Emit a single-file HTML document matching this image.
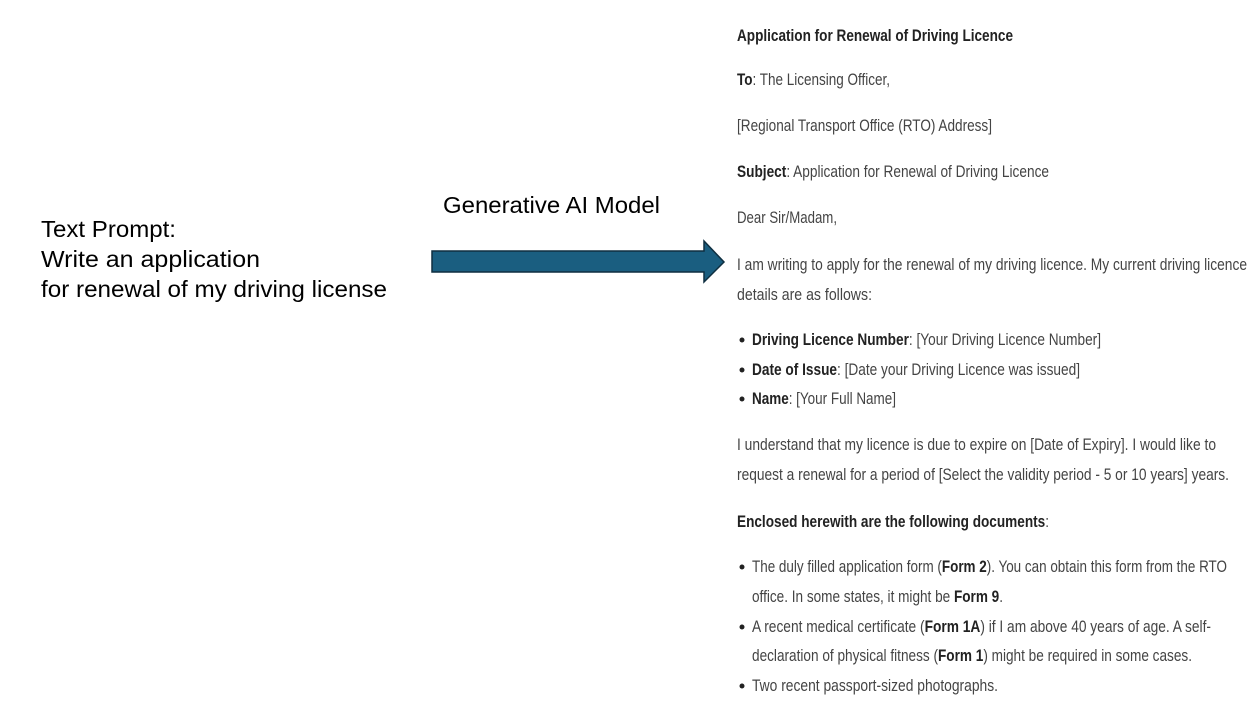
<!DOCTYPE html>
<html><head><meta charset="utf-8"><style>
html,body{margin:0;padding:0;background:#fff;}
svg{display:block;}
.r{font-family:"Liberation Sans",sans-serif;font-size:17px;fill:#444;}
.b{font-weight:bold;fill:#222;}
.l{font-family:"Liberation Sans",sans-serif;font-size:23px;fill:#000;}
</style></head><body>
<svg width="1258" height="720" viewBox="0 0 1258 720" xmlns="http://www.w3.org/2000/svg">
<text class="l" x="41" y="237" textLength="135" lengthAdjust="spacingAndGlyphs">Text Prompt:</text>
<text class="l" x="41" y="267" textLength="219" lengthAdjust="spacingAndGlyphs">Write an application</text>
<text class="l" x="41" y="297" textLength="346" lengthAdjust="spacingAndGlyphs">for renewal of my driving license</text>
<text class="l" x="443" y="213" textLength="217" lengthAdjust="spacingAndGlyphs">Generative AI Model</text>
<polygon points="432,251 704,251 704,241 724,262 704,282 704,272 432,272" fill="#1a5e80" stroke="#0f2f40" stroke-width="1.5"/>

<text class="r b" x="737" y="41" textLength="276" lengthAdjust="spacingAndGlyphs">Application for Renewal of Driving Licence</text>
<text class="r" x="737" y="85" textLength="153" lengthAdjust="spacingAndGlyphs"><tspan class="b">To</tspan>: The Licensing Officer,</text>
<text class="r" x="737" y="131" textLength="255" lengthAdjust="spacingAndGlyphs">[Regional Transport Office (RTO) Address]</text>
<text class="r" x="737" y="177" textLength="312" lengthAdjust="spacingAndGlyphs"><tspan class="b">Subject</tspan>: Application for Renewal of Driving Licence</text>
<text class="r" x="737" y="223" textLength="100" lengthAdjust="spacingAndGlyphs">Dear Sir/Madam,</text>
<text class="r" x="737" y="270" textLength="510" lengthAdjust="spacingAndGlyphs">I am writing to apply for the renewal of my driving licence. My current driving licence</text>
<text class="r" x="737" y="300" textLength="135" lengthAdjust="spacingAndGlyphs">details are as follows:</text>
<circle cx="742" cy="340" r="2.5" fill="#222"/>
<circle cx="742" cy="370" r="2.5" fill="#222"/>
<circle cx="742" cy="399" r="2.5" fill="#222"/>
<text class="r" x="752" y="345" textLength="349" lengthAdjust="spacingAndGlyphs"><tspan class="b">Driving Licence Number</tspan>: [Your Driving Licence Number]</text>
<text class="r" x="752" y="375" textLength="328" lengthAdjust="spacingAndGlyphs"><tspan class="b">Date of Issue</tspan>: [Date your Driving Licence was issued]</text>
<text class="r" x="752" y="404" textLength="144" lengthAdjust="spacingAndGlyphs"><tspan class="b">Name</tspan>: [Your Full Name]</text>
<text class="r" x="737" y="450" textLength="479" lengthAdjust="spacingAndGlyphs">I understand that my licence is due to expire on [Date of Expiry].  I would like to</text>
<text class="r" x="737" y="480" textLength="492" lengthAdjust="spacingAndGlyphs">request a renewal for a period of [Select the validity period - 5 or 10 years] years.</text>
<text class="r" x="737" y="527" textLength="312" lengthAdjust="spacingAndGlyphs"><tspan class="b">Enclosed herewith are the following documents</tspan>:</text>
<circle cx="742" cy="567" r="2.5" fill="#222"/>
<circle cx="742" cy="627" r="2.5" fill="#222"/>
<circle cx="742" cy="686" r="2.5" fill="#222"/>
<text class="r" x="752" y="572" textLength="475" lengthAdjust="spacingAndGlyphs">The duly filled application form (<tspan class="b">Form 2</tspan>). You can obtain this form from the RTO</text>
<text class="r" x="752" y="602" textLength="251" lengthAdjust="spacingAndGlyphs">office. In some states, it might be <tspan class="b">Form 9</tspan>.</text>
<text class="r" x="752" y="632" textLength="459" lengthAdjust="spacingAndGlyphs">A recent medical certificate (<tspan class="b">Form 1A</tspan>) if I am above 40 years of age. A self-</text>
<text class="r" x="752" y="661" textLength="440" lengthAdjust="spacingAndGlyphs">declaration of physical fitness (<tspan class="b">Form 1</tspan>) might be required in some cases.</text>
<text class="r" x="752" y="691" textLength="246" lengthAdjust="spacingAndGlyphs">Two recent passport-sized photographs.</text>
</svg>
</body></html>
